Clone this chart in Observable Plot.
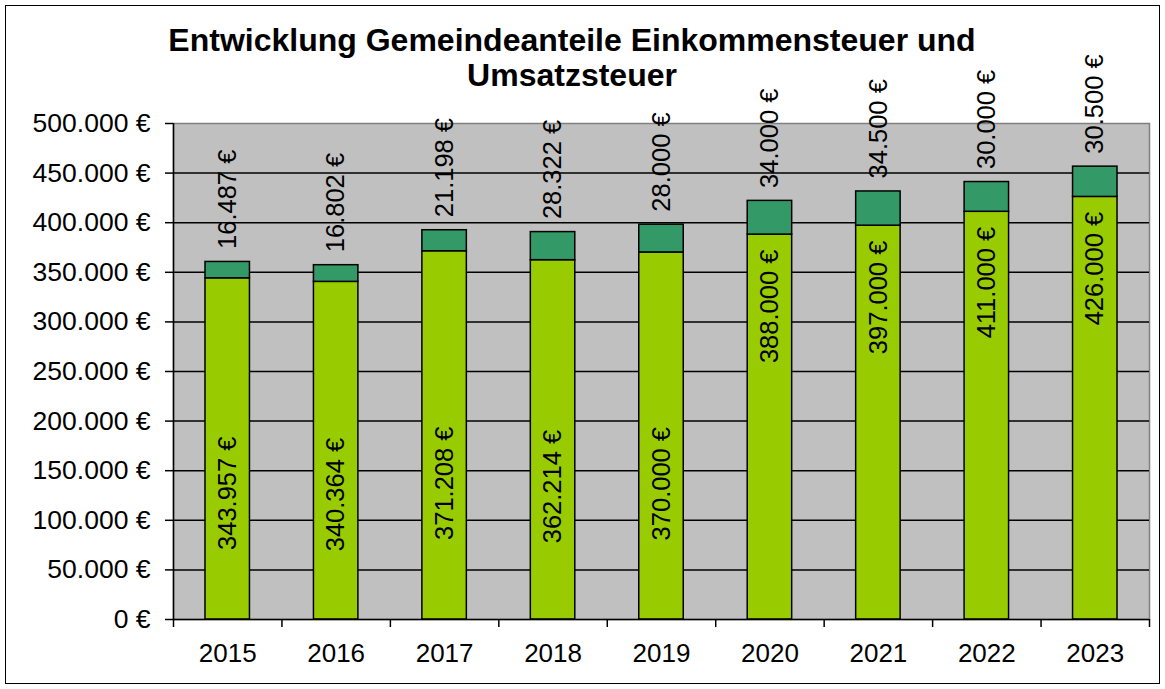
<!DOCTYPE html>
<html>
<head>
<meta charset="utf-8">
<script src="https://cdn.jsdelivr.net/npm/d3@7"></script>
<script src="https://cdn.jsdelivr.net/npm/@observablehq/plot@0.6"></script>
<style>
  html, body { margin: 0; padding: 0; background: #fff; }
  #wrap { position: relative; width: 1165px; height: 689px; overflow: hidden; font-family: "Liberation Sans", Arial, sans-serif; }
  #border { position: absolute; left: 5px; top: 5px; width: 1155px; height: 679px; box-sizing: border-box; border: 1.5px solid #000; }
  #title { position: absolute; left: 0; top: 23px; width: 1144px; text-align: center; font-weight: bold; font-size: 32px; line-height: 35px; color: #000; }
  #chart { position: absolute; left: 0; top: 0; }
</style>
</head>
<body>
<div id="wrap">
  <div id="border"></div>
  <div id="chart"></div>
  <div id="title">Entwicklung Gemeindeanteile Einkommensteuer und<br>Umsatzsteuer</div>
</div>
<script>
const years = [2015, 2016, 2017, 2018, 2019, 2020, 2021, 2022, 2023];
const einkommensteuer = [343957, 340364, 371208, 362214, 370000, 388000, 397000, 411000, 426000];
const umsatzsteuer = [16487, 16802, 21198, 28322, 28000, 34000, 34500, 30000, 30500];
const yTicks = [0, 50000, 100000, 150000, 200000, 250000, 300000, 350000, 400000, 450000, 500000];

const rows = years.map((year, i) => ({
  i, year,
  e: einkommensteuer[i],
  u: umsatzsteuer[i],
  total: einkommensteuer[i] + umsatzsteuer[i]
}));

const fmt = v => d3.format(",")(v).replace(/,/g, ".") + " €";
const half = 0.205;
const cx = d => d.i + 0.5;

const chart = Plot.plot({
  width: 1165,
  height: 689,
  marginLeft: 173,
  marginRight: 16,
  marginTop: 123,
  marginBottom: 70,
  style: { fontFamily: "'Liberation Sans', Arial, sans-serif", fontSize: "26px", background: "transparent", color: "#000", overflow: "visible" },
  x: { type: "linear", domain: [0, years.length] },
  y: { domain: [0, 500000] },
  marks: [
    Plot.frame({ fill: "#c0c0c0", stroke: "#808080", strokeWidth: 1.5 }),
    Plot.ruleY(yTicks.filter(t => t > 0 && t < 500000), { stroke: "#000", strokeWidth: 1.5 }),
    Plot.rectY(rows, { x1: d => d.i + 0.5 - half, x2: d => d.i + 0.5 + half, y1: 0, y2: "e", fill: "#99cc00", stroke: "#000", strokeWidth: 1.5 }),
    Plot.rectY(rows, { x1: d => d.i + 0.5 - half, x2: d => d.i + 0.5 + half, y1: "e", y2: "total", fill: "#339966", stroke: "#000", strokeWidth: 1.5 }),
    Plot.ruleX([0], { stroke: "#000", strokeWidth: 1.5 }),
    Plot.ruleY([0], { stroke: "#000", strokeWidth: 1.5 }),
    Plot.axisY({ ticks: yTicks, tickFormat: fmt, tickSize: 8, tickPadding: 15, strokeWidth: 1.5, label: null, fontSize: 26.5 }),
    Plot.axisX({ ticks: d3.range(0, years.length + 1), tickFormat: () => "", tickSize: 8, strokeWidth: 1.5, label: null }),
    Plot.axisX({ ticks: years.map((_, i) => i + 0.5), tickFormat: v => String(years[Math.floor(v)]), tickSize: 0, tickPadding: 24, label: null, fontSize: 26 }),
    Plot.text(rows, { x: cx, y: "total", text: d => fmt(d.u), rotate: -90, textAnchor: "start", lineAnchor: "middle", dy: -13, fontSize: 25.5, fill: "#000" }),
    Plot.text(rows.filter(d => d.i >= 5), { x: cx, y: "e", text: d => fmt(d.e), rotate: -90, textAnchor: "end", lineAnchor: "middle", dy: 15, fontSize: 25.5, fill: "#000" }),
    Plot.text(rows.filter(d => d.i < 5), { x: cx, y: d => d.e * 0.37, text: d => fmt(d.e), rotate: -90, textAnchor: "middle", lineAnchor: "middle", fontSize: 25.5, fill: "#000" })
  ]
});
document.getElementById("chart").appendChild(chart);
</script>
</body>
</html>
